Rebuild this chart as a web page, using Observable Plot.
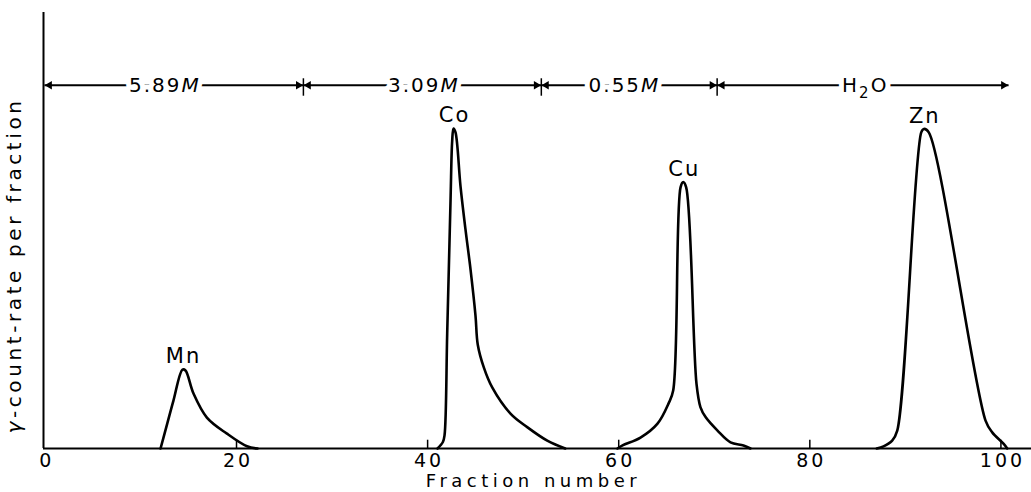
<!DOCTYPE html>
<html>
<head>
<meta charset="utf-8">
<script src="https://cdn.jsdelivr.net/npm/d3@7"></script>
<script src="https://cdn.jsdelivr.net/npm/@observablehq/plot@0.6"></script>
<style>
  html, body { margin: 0; padding: 0; background: #fff; }
</style>
</head>
<body>
<div id="chart"></div>
<script>
// ---- Data ----
const mnX = [12.05, 12.75, 13.4, 14.35, 14.66, 15.5, 16.9, 19.0, 21.1, 22.2];
const mnY = [0, 5.7, 11.0, 18.1, 17.9, 12.6, 7.1, 3.4, 0.5, 0];

const coX = [41.04, 41.6, 41.77, 42.05, 42.4, 42.57, 42.71, 42.92, 43.44, 43.96, 44.49, 45.01, 45.25, 45.88, 46.76, 48.67, 50.42, 52.52, 54.4];
const coY = [0, 1.5, 3.0, 26.4, 57, 70.5, 73.4, 72.5, 60.2, 50.3, 41.1, 30.5, 23.8, 18.6, 14.0, 8.0, 4.9, 1.8, 0];

const cuX = [59.87, 60.4, 62.28, 64.06, 65.21, 65.70, 66.47, 66.75, 67.06, 68.14, 68.55, 69.09, 70.34, 71.70, 73.06, 73.79];
const cuY = [0, 0.7, 2.5, 5.7, 10.3, 13.3, 59.9, 61.1, 59.9, 14.8, 9.5, 7.2, 4.1, 1.4, 0.7, 0];

const znX = [87.0, 87.71, 88.62, 89.15, 91.66, 91.93, 92.45, 98.39, 99.09, 100.27, 100.66];
const znY = [0, 0.5, 1.8, 4.1, 72.5, 73.3, 72.5, 6.4, 3.7, 1.1, 0];

const elementNames = ["Mn", "Co", "Cu", "Zn"];

const segLabels = ["5.89M", "3.09M", "0.55M", "H2O"];
const segStart = [-0.1, 27.0, 51.9, 70.3];
const segEnd = [27.0, 51.9, 70.3, 100.8];
const segLabelX = [12.5, 39.6, 60.6, 85.8];
const dividerX = [27.0, 51.9, 70.3];
const segLevel = 83.3;

const xTicks = [0, 20, 40, 60, 80, 100];
const innerTicks = [20, 40, 60, 80, 100];

const xLabel = "Fraction number";
const yLabel = "\u03b3-count-rate per fraction";

// ---- Build tables ----
const seriesX = [mnX, coX, cuX, znX];
const seriesY = [mnY, coY, cuY, znY];
const rows = elementNames.flatMap((name, i) =>
  seriesX[i].map((x, j) => ({name, x, y: seriesY[i][j]})));
const peaks = elementNames.map((name, i) => {
  const ys = seriesY[i];
  const k = ys.indexOf(Math.max(...ys));
  return {name, x: seriesX[i][k], y: ys[k]};
});
const segs = segLabels.map((label, i) => ({
  label, x1: segStart[i], x2: segEnd[i], xm: segLabelX[i], y: segLevel
}));

const font = "'DejaVu Sans', sans-serif";

const plot = Plot.plot({
  width: 1031,
  height: 492,
  marginLeft: 43,
  marginRight: 0,
  marginTop: 12,
  marginBottom: 44,
  style: {fontFamily: font, fontSize: "18px", background: "#fff", color: "#000"},
  x: {domain: [-0.2, 103.2], axis: null},
  y: {domain: [0, 100], axis: null},
  marks: [
    // baseline (x axis line) and y axis line
    Plot.ruleY([0], {x1: -0.2, x2: 103.2, stroke: "#000", strokeWidth: 2}),
    Plot.ruleX([-0.2], {y1: 0, y2: 100, stroke: "#000", strokeWidth: 2}),
    Plot.ruleX(innerTicks, {x: d => d, y1: 0, y2: 1.9, stroke: "#000", strokeWidth: 1.5}),
    Plot.axisX(xTicks, {tickSize: 0, tickPadding: 5, dx: 1.5, fontSize: 19, fontFamily: font, label: null}),
    // elution peaks
    Plot.line(rows, {x: "x", y: "y", z: "name", curve: "catmull-rom", stroke: "#000", strokeWidth: 2.6}),
    Plot.text(peaks, {x: "x", y: "y", text: "name", dy: -13, dx: 1, fontSize: 21, fill: "#000"}),
    // eluent segments
    Plot.link(segs, {x1: "x1", y1: "y", x2: "x2", y2: "y", stroke: "#000", strokeWidth: 2}),
    Plot.dot(segs, {x: "x1", y: "y", symbol: "triangle2", rotate: -90, r: 4, dx: 5, fill: "#000"}),
    Plot.dot(segs, {x: "x2", y: "y", symbol: "triangle2", rotate: 90, r: 4, dx: -5, fill: "#000"}),
    Plot.ruleX(dividerX, {x: d => d, y1: 80.8, y2: 84.8, stroke: "#000", strokeWidth: 1.5}),
    Plot.text(segs, {x: "xm", y: "y", text: "label", fontSize: 20, fill: "#000", stroke: "#fff", strokeWidth: 10}),
    // axis titles
    Plot.text([xLabel], {frameAnchor: "bottom", dx: -4, dy: 38, fontSize: 18, fill: "#000"}),
    Plot.text([yLabel], {frameAnchor: "left", textAnchor: "middle", rotate: -90, dx: -29, dy: 35, fontSize: 20, fill: "#000"})
  ]
});

document.getElementById("chart").appendChild(plot);

// italic M, italic gamma and subscript 2 as in the original lettering
d3.select(plot).selectAll("text").each(function () {
  const t = this.textContent;
  const sel = d3.select(this);
  if (/^[0-9.]+M$/.test(t)) {
    sel.text(null);
    sel.append("tspan").text(t.slice(0, -1));
    sel.append("tspan").attr("font-style", "italic").text("M");
    sel.attr("letter-spacing", "2px");
  } else if (t === "H2O") {
    sel.text(null);
    sel.append("tspan").text("H");
    sel.append("tspan").attr("font-size", 15).attr("dy", 6).text("2");
    sel.append("tspan").attr("dy", -6).text("O");
    sel.attr("letter-spacing", "2px");
  } else if (t === yLabel) {
    sel.text(null);
    sel.append("tspan").attr("font-style", "italic").text(t[0]);
    sel.append("tspan").text(t.slice(1));
    sel.attr("letter-spacing", "3.6px");
  } else if (t === xLabel) {
    sel.attr("letter-spacing", "4.5px");
  } else if (/^\d+$/.test(t)) {
    sel.attr("letter-spacing", "3px");
  } else if (elementNames.includes(t)) {
    sel.attr("letter-spacing", "2px");
  }
});
</script>
</body>
</html>
